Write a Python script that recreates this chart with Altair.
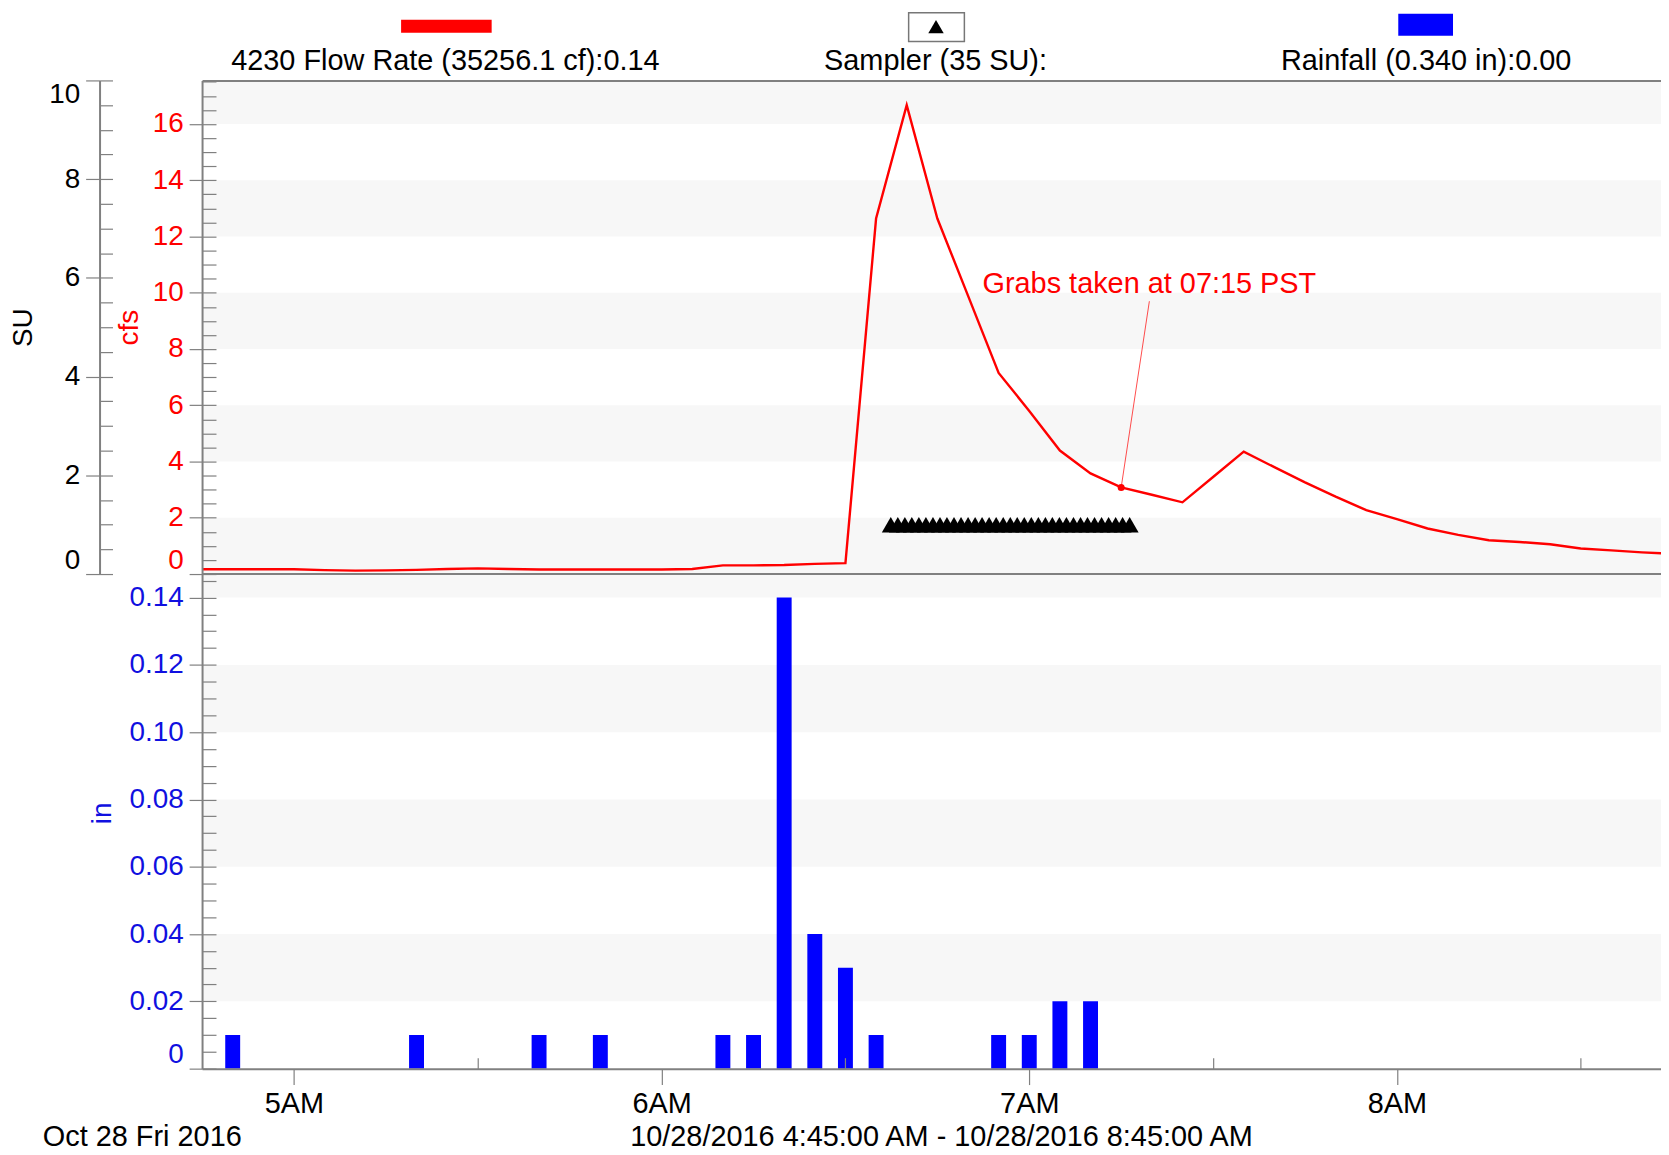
import altair as alt
import pandas as pd

# ---------------- data ----------------
DAY = "2016-10-28T"

flow_times = ["04:45","04:50","04:55","05:00","05:05","05:10","05:15","05:20","05:25","05:30",
              "05:35","05:40","05:45","05:50","05:55","06:00","06:05","06:10","06:15","06:20",
              "06:25","06:30","06:35","06:40","06:45","06:50","06:55","07:00","07:05","07:10",
              "07:15","07:20","07:25","07:30","07:35","07:40","07:45","07:50","07:55","08:00",
              "08:05","08:10","08:15","08:20","08:25","08:30","08:35","08:40","08:45"]
flow_cfs = [0.17,0.17,0.17,0.17,0.14,0.12,0.13,0.15,0.18,0.20,
            0.18,0.16,0.16,0.16,0.16,0.16,0.18,0.31,0.31,0.32,
            0.36,0.39,12.64,16.67,12.64,9.9,7.15,5.8,4.39,3.58,
            3.08,2.82,2.55,3.45,4.35,3.8,3.26,2.75,2.27,1.95,
            1.62,1.39,1.2,1.14,1.06,0.91,0.84,0.77,0.72]

rain_times = ["04:50","05:20","05:40","05:50","06:10","06:15","06:20","06:25","06:30","06:35",
              "06:55","07:00","07:05","07:10"]
rain_in = [0.01,0.01,0.01,0.01,0.01,0.01,0.14,0.04,0.03,0.01,0.01,0.01,0.02,0.02]

sampler_times = ["06:37:24","06:38:33","06:39:42","06:40:50","06:41:59","06:43:08","06:44:17",
                 "06:45:26","06:46:34","06:47:43","06:48:52","06:50:01","06:51:10","06:52:18",
                 "06:53:27","06:54:36","06:55:45","06:56:54","06:58:02","06:59:11","07:00:20",
                 "07:01:29","07:02:38","07:03:46","07:04:55","07:06:04","07:07:13","07:08:22",
                 "07:09:30","07:10:39","07:11:48","07:12:57","07:14:06","07:15:14","07:16:23"]
sampler_su = 1

grab_time = "07:15:00"
grab_cfs = 3.08
grab_label_time = "07:19:36"
grab_line_top_cfs = 9.7
grab_label_cfs = 10.0
grab_label = "Grabs taken at 07:15 PST"

cfs_band_lo = [0, 4, 8, 12, 16]
cfs_band_hi = [2, 6, 10, 14, 17.55]
rain_band_lo = [0.02, 0.06, 0.10, 0.14]
rain_band_hi = [0.04, 0.08, 0.12, 0.147]

legend_labels = ["4230 Flow Rate (35256.1 cf):0.14", "Sampler (35 SU):", "Rainfall (0.340 in):0.00"]
footer_left = "Oct 28 Fri 2016"
footer_center = "10/28/2016 4:45:00 AM - 10/28/2016 8:45:00 AM"

cfs_ticks = [0, 2, 4, 6, 8, 10, 12, 14, 16]
su_ticks = [0, 2, 4, 6, 8, 10]
rain_ticks = [0, 0.02, 0.04, 0.06, 0.08, 0.10, 0.12, 0.14]
cfs_minor = [i * 0.5 for i in range(36)]
su_minor = [i * 0.5 for i in range(21)]
rain_minor = [round(i * 0.005, 3) for i in range(30)]
hour_ticks = [5, 6, 7, 8]
halfhour_ticks = [5, 6, 7, 8]

# ---------------- layout / style ----------------
W = 1466
H_TOP = 496
H = 993
FONT = "Liberation Sans, Arial, sans-serif"
AX = "#808080"
RED = "#ff0000"
BLUE = "#0000ff"
BLUE_TXT = "#1010e0"
BAND = "#f7f7f7"
FS = 28
FS_TXT = 29


def dt(h, m=0, s=0):
    return alt.DateTime(year=2016, month=10, date=28, hours=h, minutes=m, seconds=s)


xs = alt.Scale(domain=[dt(4, 45), dt(8, 43, 6)], padding=0, nice=False)
cfs_scale = alt.Scale(domain=[0, 17.55], range=[H_TOP, 0], nice=False, zero=False)
su_scale = alt.Scale(domain=[0, 10], range=[H_TOP, 0], nice=False, zero=False)
rain_scale = alt.Scale(domain=[0, 0.147], range=[H, H_TOP], nice=False, zero=False)


def X(field, axis=None):
    return alt.X(f"{field}:T", scale=xs, axis=axis)


def major_axis(values, title, color, tx, ty, offset=0, tick=13, **kw):
    return alt.Axis(orient="left", offset=offset, values=values, tickSize=tick, tickColor=AX,
                    tickWidth=1.2, labelPadding=6, labelFontSize=FS, labelFont=FONT,
                    labelColor=color, labelFlush=True, labelOverlap=False,
                    domainColor=AX, domainWidth=2, grid=False, zindex=2,
                    title=title, titleColor=color, titleFont=FONT, titleFontSize=FS,
                    titleFontWeight="normal", titleAngle=270, titleX=tx, titleY=ty,
                    titleAlign="center", titleBaseline="middle", **kw)


def minor_axis(values, offset, tick, orient="left"):
    return alt.Axis(orient=orient, offset=offset, values=values, tickSize=tick, tickColor=AX,
                    tickWidth=1.2, labels=False, domain=False, grid=False, title=None, zindex=2)


flow_df = pd.DataFrame({"t": [f"{DAY}{t}:00" for t in flow_times], "cfs": flow_cfs})
rain_df = pd.DataFrame({"t": [f"{DAY}{t}:00" for t in rain_times], "rain": rain_in})
samp_df = pd.DataFrame({"t": [f"{DAY}{t}" for t in sampler_times],
                        "su": [sampler_su] * len(sampler_times)})
cfs_band_df = pd.DataFrame({"lo": cfs_band_lo, "hi": cfs_band_hi})
rain_band_df = pd.DataFrame({"lo": rain_band_lo, "hi": rain_band_hi})
grab_df = pd.DataFrame({"t": [f"{DAY}{grab_time}"], "t2": [f"{DAY}{grab_label_time}"],
                        "v": [grab_cfs], "v2": [grab_line_top_cfs], "v3": [grab_label_cfs],
                        "label": [grab_label]})

layers = []

# background bands
layers.append(alt.Chart(cfs_band_df).mark_rect(color=BAND).encode(
    x=alt.value(0), x2=alt.value("width"),
    y=alt.Y("lo:Q", scale=cfs_scale, axis=minor_axis(cfs_minor, -14, 14)),
    y2="hi:Q"))
layers.append(alt.Chart(rain_band_df).mark_rect(color=BAND).encode(
    x=alt.value(0), x2=alt.value("width"),
    y=alt.Y("lo:Q", scale=rain_scale, axis=minor_axis(rain_minor, -14, 14)),
    y2="hi:Q"))

# separator between panels
layers.append(alt.Chart(pd.DataFrame({"k": [0]})).mark_rule(color=AX, strokeWidth=2).encode(
    y=alt.YDatum(datum=0, type="quantitative", scale=cfs_scale, axis=None)))

# rainfall bars (main x axis)
x_axis = alt.Axis(orient="bottom", values=[dt(h) for h in hour_ticks], format="%-I%p",
                  formatType="time", tickSize=16, tickColor=AX, tickWidth=1.2, labelPadding=5,
                  labelFontSize=FS_TXT, labelFont=FONT, labelColor="black", labelFlush=False,
                  labelOverlap=False, domainColor=AX, domainWidth=2, grid=False, title=None,
                  zindex=2)
layers.append(alt.Chart(rain_df).mark_bar(color=BLUE, size=15).encode(
    x=X("t", x_axis),
    y=alt.Y("rain:Q", scale=rain_scale,
            axis=major_axis(rain_ticks, "in", BLUE_TXT, -100, 736,
                            labelExpr="datum.value == 0 ? '0' : format(datum.value, '.2f')"))))

# flow line (minor x ticks)
x_minor = minor_axis([dt(h, 30) for h in halfhour_ticks], -11, 11, orient="bottom")
layers.append(alt.Chart(flow_df).mark_line(color=RED, strokeWidth=2.4, clip=True).encode(
    x=X("t", x_minor),
    y=alt.Y("cfs:Q", scale=cfs_scale,
            axis=major_axis(cfs_ticks, "cfs", RED, -73, 248, format="d"))))

# grab annotation
layers.append(alt.Chart(grab_df).mark_rule(color=RED, strokeWidth=1, opacity=0.7).encode(
    x=X("t"), x2="t2:T", y=alt.Y("v:Q", scale=cfs_scale, axis=None), y2="v2:Q"))
layers.append(alt.Chart(grab_df).mark_point(filled=True, color=RED, size=50, opacity=1).encode(
    x=X("t"), y=alt.Y("v:Q", scale=cfs_scale, axis=None)))
layers.append(alt.Chart(grab_df).mark_text(color=RED, font=FONT, fontSize=FS_TXT, align="center",
                                           baseline="alphabetic").encode(
    x=X("t2"), y=alt.Y("v3:Q", scale=cfs_scale, axis=None), text="label:N"))

# sampler triangles (SU axis + top frame line)
top_axis = alt.Axis(orient="top", labels=False, ticks=False, domain=True, domainColor=AX,
                    domainWidth=2, grid=False, title=None, zindex=2)
layers.append(alt.Chart(samp_df).mark_point(shape="triangle-up", filled=True, color="black",
                                            size=324, opacity=1).encode(
    x=X("t", top_axis),
    y=alt.Y("su:Q", scale=su_scale,
            axis=major_axis(su_ticks, "SU", "black", -76, 248, offset=103, tick=14, format="d"))))
layers.append(alt.Chart(samp_df).mark_point(opacity=0).encode(
    x=X("t"), y=alt.Y("su:Q", scale=su_scale, axis=minor_axis(su_minor, 90, 13))))

# legend strip on top
one = pd.DataFrame({"k": [0]})
layers.append(alt.Chart(one).mark_rect(color=RED).encode(
    x=alt.value(200), x2=alt.value(291), y=alt.value(-61), y2=alt.value(-48)))
layers.append(alt.Chart(one).mark_rect(fill="white", stroke="#777777", strokeWidth=1.5).encode(
    x=alt.value(710), x2=alt.value(766), y=alt.value(-68), y2=alt.value(-39)))
layers.append(alt.Chart(one).mark_point(shape="triangle-up", filled=True, color="black",
                                        size=240, opacity=1).encode(
    x=alt.value(737.5), y=alt.value(-54)))
layers.append(alt.Chart(one).mark_rect(color=BLUE).encode(
    x=alt.value(1202), x2=alt.value(1257), y=alt.value(-67), y2=alt.value(-45)))
for lbl, xpos in zip(legend_labels, [244.5, 737, 1230]):
    layers.append(alt.Chart(pd.DataFrame({"label": [lbl]})).mark_text(
        font=FONT, fontSize=FS_TXT, color="black", align="center", baseline="alphabetic").encode(
        x=alt.value(xpos), y=alt.value(-10), text="label:N"))

# footer
layers.append(alt.Chart(pd.DataFrame({"label": [footer_left]})).mark_text(
    font=FONT, fontSize=FS_TXT, color="black", align="left", baseline="alphabetic").encode(
    x=alt.value(-160), y=alt.value(1071), text="label:N"))
layers.append(alt.Chart(pd.DataFrame({"label": [footer_center]})).mark_text(
    font=FONT, fontSize=FS_TXT, color="black", align="center", baseline="alphabetic").encode(
    x=alt.value(743), y=alt.value(1071), text="label:N"))

chart = alt.layer(*layers).resolve_scale(y="independent").resolve_axis(
    x="independent", y="independent"
).properties(
    width=W, height=H,
    padding={"left": 195, "top": 70, "right": 0, "bottom": 86},
    autosize=alt.AutoSizeParams(type="none"),
    background="white",
).configure_view(stroke=None)

chart.save("out.html", embed_options={"renderer": "svg", "actions": False})
